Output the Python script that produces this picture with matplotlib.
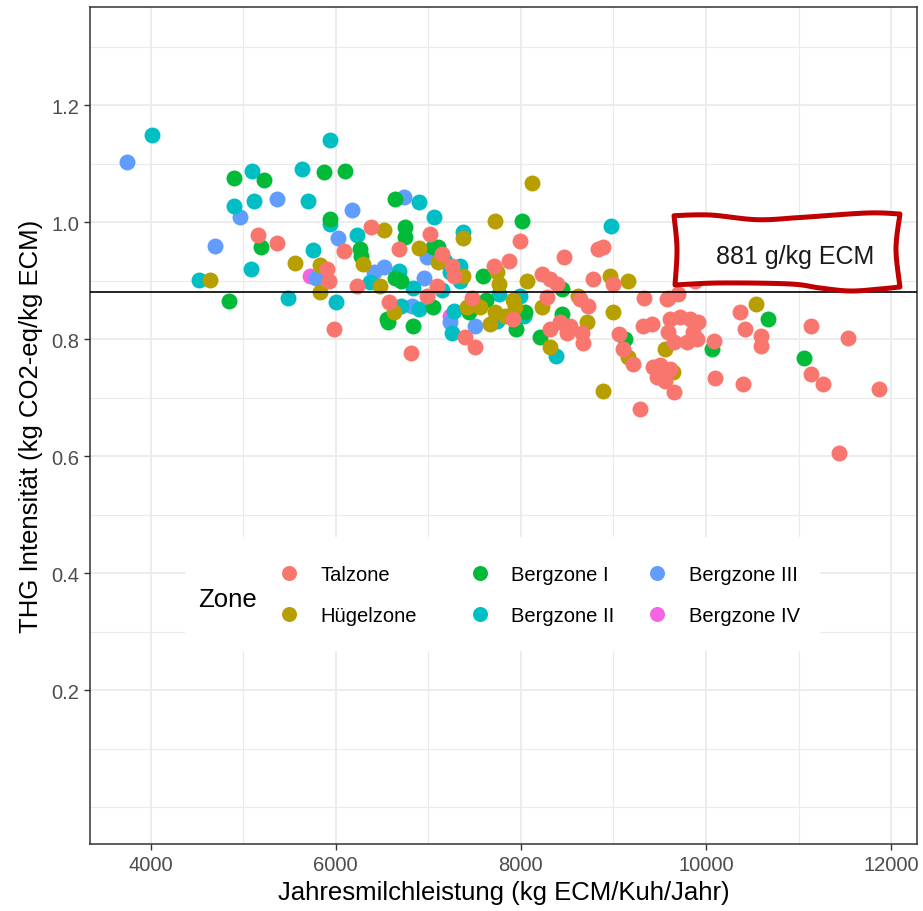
import numpy as np
import matplotlib
matplotlib.use("Agg")
import matplotlib.pyplot as plt
from matplotlib.lines import Line2D
from matplotlib.patches import Polygon, Rectangle
from matplotlib.ticker import FixedLocator

plt.rcParams['font.family'] = ['Liberation Sans', 'DejaVu Sans']

# ---------------- data ----------------
zones = ["Talzone", "Hügelzone", "Bergzone I", "Bergzone II", "Bergzone III", "Bergzone IV"]
colors = ["#F8766D", "#B79F00", "#00BA38", "#00BFC4", "#619CFF", "#F564E3"]

tal_x = [5160, 5370, 6085, 6385, 5905, 5925, 6230, 5985, 6810, 6580, 6680, 7020, 7990, 8470, 8835,
         8890, 7255, 7705, 7875, 8225, 8315, 8390, 8780, 9000, 8730, 9055, 9215, 9285, 9320, 9420,
         9575, 9660, 6985, 7400, 7505, 7470, 7920, 8315, 8425, 8530, 8495, 8675, 8660, 9330, 9880,
         9595, 9700, 10365, 10420, 10590, 10590, 9105, 10090, 10095, 10400, 11130, 11535, 11130,
         11265, 11870, 11440, 7273, 7095, 7150, 8280, 8640,
         9610, 9720, 9825, 9915, 9585, 9855, 9660, 9790, 9900,
         9430, 9505, 9610, 9470, 9560]
tal_y = [0.978, 0.965, 0.950, 0.991, 0.920, 0.900, 0.890, 0.817, 0.776, 0.863, 0.954, 0.980, 0.968,
         0.941, 0.954, 0.957, 0.925, 0.925, 0.933, 0.911, 0.903, 0.894, 0.903, 0.894, 0.857, 0.809,
         0.757, 0.680, 0.823, 0.826, 0.868, 0.709, 0.874, 0.803, 0.786, 0.871, 0.834, 0.817, 0.829,
         0.823, 0.811, 0.794, 0.811, 0.871, 0.900, 0.871, 0.877, 0.847, 0.817, 0.805, 0.788, 0.783,
         0.797, 0.733, 0.724, 0.823, 0.801, 0.740, 0.723, 0.715, 0.605, 0.908, 0.891, 0.945, 0.872,
         0.868,
         0.834, 0.838, 0.834, 0.830, 0.812, 0.812, 0.795, 0.795, 0.800,
         0.752, 0.756, 0.749, 0.735, 0.728]

huegel_x = [6520, 6295, 5560, 5835, 4640, 5835, 6475, 6895, 7110, 7370, 7720, 8125, 7380, 7740, 7760,
            8065, 8620, 8965, 9160, 9000, 9160, 8890, 9555, 9645, 6625, 7560, 7670, 7920, 7940, 7830,
            8225, 8315, 8710, 10545, 7415, 7720]
huegel_y = [0.987, 0.928, 0.930, 0.926, 0.901, 0.881, 0.891, 0.955, 0.931, 0.972, 1.002, 1.067, 0.908,
            0.914, 0.894, 0.900, 0.874, 0.907, 0.899, 0.846, 0.769, 0.712, 0.783, 0.744, 0.846, 0.854,
            0.826, 0.866, 0.854, 0.840, 0.854, 0.786, 0.829, 0.860, 0.854, 0.846]

berg1_x = [4905, 5225, 5870, 6095, 5940, 5195, 6260, 6275, 4845, 6555, 6645, 6750, 6750, 7055, 7110,
           8010, 8440, 9125, 6570, 6840, 6645, 6700, 7055, 7435, 7625, 7595, 7950, 8045, 8440, 8210,
           10070, 10670, 11055]
berg1_y = [1.075, 1.072, 1.085, 1.088, 1.006, 0.958, 0.954, 0.942, 0.865, 0.834, 1.039, 0.991, 0.974,
           0.957, 0.957, 1.002, 0.885, 0.800, 0.830, 0.823, 0.905, 0.900, 0.854, 0.846, 0.866, 0.908,
           0.817, 0.846, 0.843, 0.803, 0.783, 0.834, 0.767]

berg2_x = [4020, 4525, 5940, 5095, 5635, 4905, 5120, 5695, 6230, 5755, 5080, 6365, 5485, 6005, 6895,
           7065, 7185, 7370, 8975, 7235, 7345, 7760, 6700, 6840, 6895, 7145, 7275, 7255, 7740, 8030,
           7990, 8380, 6680, 7345, 5940]
berg2_y = [1.149, 0.901, 1.140, 1.088, 1.091, 1.028, 1.036, 1.036, 0.978, 0.953, 0.920, 0.897, 0.870,
           0.863, 1.034, 1.008, 0.934, 0.983, 0.993, 0.914, 0.925, 0.877, 0.857, 0.888, 0.851, 0.883,
           0.848, 0.811, 0.831, 0.840, 0.874, 0.771, 0.917, 0.900, 0.996]

berg3_x = [3750, 4965, 5365, 6175, 6020, 4695, 5785, 6410, 6520, 6740, 6985, 6950, 7235, 7505, 6825]
berg3_y = [1.103, 1.008, 1.039, 1.021, 0.972, 0.959, 0.904, 0.914, 0.923, 1.042, 0.940, 0.905, 0.829,
           0.823, 0.856]

berg4_x = [5725, 7235]
berg4_y = [0.908, 0.840]

mean_value = 0.881
x_ticks = [4000, 6000, 8000, 10000, 12000]
y_ticks = [0.2, 0.4, 0.6, 0.8, 1.0, 1.2]
y_tick_labels = ["0.2", "0.4", "0.6", "0.8", "1.0", "1.2"]

series = [(tal_x, tal_y), (huegel_x, huegel_y), (berg1_x, berg1_y),
          (berg2_x, berg2_y), (berg3_x, berg3_y), (berg4_x, berg4_y)]

# ---------------- figure ----------------
fig = plt.figure(figsize=(9.23, 9.12), dpi=100)
ax = fig.add_axes([0.0975, 0.0735, 0.896, 0.9177])

ax.set_xlim(3345, 12280)
ax.set_ylim(-0.063, 1.3675)

ax.xaxis.set_major_locator(FixedLocator(x_ticks))
ax.xaxis.set_minor_locator(FixedLocator([5000, 7000, 9000, 11000]))
ax.yaxis.set_major_locator(FixedLocator(y_ticks))
ax.set_yticklabels(y_tick_labels)
ax.yaxis.set_minor_locator(FixedLocator([0.0, 0.1, 0.3, 0.5, 0.7, 0.9, 1.1, 1.3]))

ax.grid(which='major', color='#EBEBEB', lw=1.3, zorder=0)
ax.grid(which='minor', color='#EBEBEB', lw=0.8, zorder=0)
ax.set_axisbelow(True)

ax.tick_params(which='major', length=4, width=1.0, color='#333333',
               labelsize=14.5, labelcolor='#4D4D4D', pad=4)
ax.tick_params(which='minor', length=0)
for sp in ax.spines.values():
    sp.set_color('#333333')
    sp.set_linewidth(1.1)

order = [5, 4, 3, 2, 1, 0]
for i in order:
    xs, ys = series[i]
    ax.scatter(xs, ys, s=132, color=colors[i], linewidths=0, zorder=2)

ax.axhline(mean_value, color='black', lw=1.2, zorder=3)

ax.set_xlabel("Jahresmilchleistung (kg ECM/Kuh/Jahr)", fontsize=18.5, labelpad=4)
ax.set_ylabel("THG Intensität (kg CO2-eq/kg ECM)", fontsize=18.5, labelpad=6)

# ---------------- legend ----------------
ax.add_patch(Rectangle((0.1149, 0.2306), 0.7678, 0.1362, transform=ax.transAxes,
                       facecolor='white', edgecolor='none', zorder=5))
ax.text(0.1306, 0.2927, "Zone", transform=ax.transAxes, fontsize=18.5,
        ha='left', va='center', zorder=7)
col_x = [0.2285, 0.4590, 0.6738]
for c in range(3):
    handles = [Line2D([], [], marker='o', ls='', color=colors[2 * c + r],
                      markersize=10.8, markeredgewidth=0) for r in range(2)]
    labels = [zones[2 * c + r] for r in range(2)]
    leg = ax.legend(handles, labels, loc='center left', bbox_to_anchor=(col_x[c], 0.2975),
                    bbox_transform=ax.transAxes, frameon=False, fontsize=14.5,
                    handlelength=1.0, handletextpad=1.08, labelspacing=1.12,
                    borderpad=0, borderaxespad=0)
    leg.set_zorder(7)
    if c < 2:
        ax.add_artist(leg)

# ---------------- annotation box (hand-drawn look) ----------------
edges = [
    np.array([[0.7062, 0.7507], [0.7497, 0.7515], [0.8065, 0.7459], [0.8585, 0.7485],
              [0.9395, 0.7539], [0.9794, 0.7527]]),
    np.array([[0.9794, 0.7527], [0.9746, 0.7109], [0.9794, 0.6655]]),
    np.array([[0.9794, 0.6655], [0.9553, 0.6631], [0.9190, 0.6607], [0.8827, 0.6643],
              [0.8464, 0.6691], [0.7618, 0.6703], [0.7074, 0.6679]]),
    np.array([[0.7074, 0.6679], [0.7098, 0.7109], [0.7062, 0.7507]]),
]


def catmull_open(p, n=16):
    p = np.vstack([p[0], p, p[-1]])
    out = []
    for i in range(1, len(p) - 2):
        p0, p1, p2, p3 = p[i - 1], p[i], p[i + 1], p[i + 2]
        for t in np.linspace(0, 1, n, endpoint=False):
            t2, t3 = t * t, t * t * t
            out.append(0.5 * ((2 * p1) + (-p0 + p2) * t + (2 * p0 - 5 * p1 + 4 * p2 - p3) * t2
                              + (-p0 + 3 * p1 - 3 * p2 + p3) * t3))
    return np.array(out)


outline = np.vstack([catmull_open(e) for e in edges])
ax.add_patch(Polygon(outline, closed=True, transform=ax.transAxes,
                     facecolor='white', edgecolor='#C00000', lw=3.6, joinstyle='round',
                     zorder=8))
ax.text(0.8525, 0.7025, "881 g/kg ECM", transform=ax.transAxes, fontsize=18,
        color='#1A1A1A', ha='center', va='center', zorder=9)

fig.savefig("out.png", dpi=100)
